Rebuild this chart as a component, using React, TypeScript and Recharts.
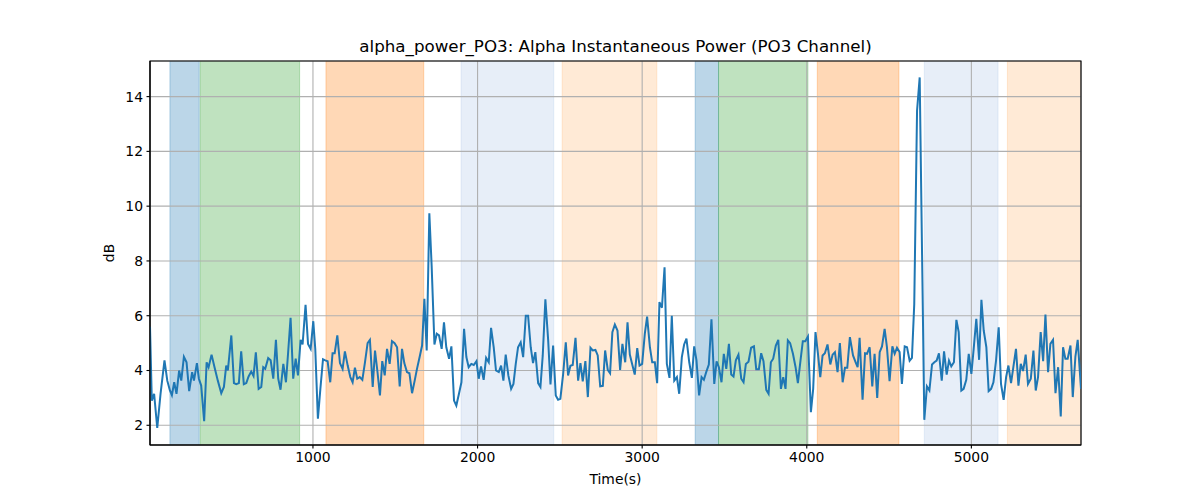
import React from "react";
import { LineChart, Line, XAxis, YAxis, CartesianGrid, ReferenceArea } from "recharts";

const times = [
  10, 21, 35, 54, 74, 98, 115, 131, 143, 157, 171, 187, 200, 216, 232, 248, 266, 277, 295, 307, 321, 339, 354, 366, 384, 402, 422, 443, 459, 473, 483, 504, 520, 534, 550, 564, 580, 595, 609, 625, 639, 653, 670, 686, 698, 710,
  728, 743, 759, 775, 789, 803, 820, 836, 850, 864, 880, 895, 909, 925, 937, 955, 970, 986, 1002, 1014, 1030, 1045, 1061, 1075, 1089, 1105, 1119, 1132, 1148, 1164, 1180, 1194, 1211, 1227, 1241, 1255, 1269, 1284, 1300, 1316, 1332, 1346, 1363, 1377, 1391, 1407, 1421,
  1436, 1450, 1466, 1480, 1496, 1511, 1527, 1541, 1555, 1571, 1586, 1602, 1618, 1632, 1648, 1663, 1677, 1691, 1707, 1721, 1738, 1752, 1766, 1782, 1796, 1810, 1827, 1841, 1857, 1871, 1887, 1902, 1918, 1932, 1946, 1962, 1977, 1993, 2007, 2021, 2037, 2052, 2068, 2082, 2098, 2112, 2129, 2143,
  2157, 2171, 2187, 2204, 2218, 2232, 2246, 2262, 2277, 2293, 2307, 2323, 2337, 2351, 2368, 2382, 2396, 2412, 2429, 2443, 2459, 2475, 2489, 2503, 2520, 2536, 2550, 2564, 2578, 2595, 2611, 2625, 2639, 2655, 2670, 2686, 2700, 2716, 2730, 2745, 2761, 2775, 2791, 2805, 2819, 2834, 2850,
  2866, 2880, 2897, 2911, 2925, 2939, 2955, 2970, 2984, 3000, 3016, 3030, 3047, 3061, 3077, 3091, 3105, 3120, 3136, 3150, 3166, 3180, 3195, 3211, 3225, 3241, 3255, 3269, 3286, 3302, 3316, 3330, 3346, 3361, 3375, 3389, 3405, 3421, 3438, 3452, 3466, 3482, 3496, 3511, 3527, 3541, 3555,
  3569, 3585, 3602, 3616, 3630, 3646, 3662, 3679, 3693, 3709, 3723, 3737, 3754, 3768, 3782, 3796, 3812, 3827, 3843, 3857, 3871, 3885, 3899, 3916, 3932, 3946, 3962, 3976, 3991, 4007, 4025, 4039, 4053, 4068, 4082, 4096, 4110, 4126, 4143, 4157, 4171, 4187, 4201, 4218, 4232, 4246, 4262,
  4281, 4297, 4309, 4321, 4339, 4354, 4366, 4382, 4398, 4412, 4428, 4443, 4457, 4473, 4487, 4503, 4520, 4534, 4548, 4564, 4578, 4595, 4609, 4625, 4639, 4653, 4670, 4686, 4714, 4730, 4745, 4761, 4775, 4789, 4803, 4820, 4834, 4850, 4864, 4878, 4894, 4909, 4923, 4939, 4953, 4969, 4984,
  5000, 5014, 5030, 5047, 5061, 5075, 5091, 5105, 5120, 5134, 5150, 5166, 5180, 5196, 5211, 5225, 5241, 5255, 5271, 5286, 5300, 5314, 5330, 5344, 5361, 5377, 5391, 5405, 5421, 5436, 5450, 5466, 5480, 5496, 5511, 5527, 5543, 5557, 5571, 5585, 5602, 5616, 5632, 5646, 5666,
];

const power = [
  5.6, 2.9, 3.15, 1.9, 3.15, 4.37, 3.63, 3.27, 3.1, 3.57, 3.15, 4.0, 3.63, 4.5, 4.3, 3.25, 3.94, 3.63, 4.27, 3.7, 3.45, 2.15, 4.3, 4.12, 4.58, 4.12, 3.63, 3.17, 3.4, 4.18, 4.0, 5.28, 3.54, 3.5, 3.54, 4.7, 3.5, 3.54, 3.78, 3.96, 3.8, 4.66, 3.33, 3.4, 4.12, 4.06,
  4.45, 4.37, 3.7, 5.12, 3.7, 3.3, 4.24, 3.57, 4.73, 5.92, 3.7, 4.43, 3.82, 5.12, 4.95, 6.4, 4.97, 4.79, 5.8, 4.79, 2.24, 3.33, 4.41, 4.37, 4.34, 3.57, 4.63, 4.63, 5.28, 4.27, 4.06, 4.7, 4.18, 3.76, 3.57, 4.1, 3.7, 3.76, 3.66, 4.3, 5.0, 5.12, 3.4, 4.73, 4.0, 3.09, 4.34,
  3.82, 4.79, 4.24, 5.07, 5.0, 4.85, 3.42, 4.79, 4.27, 3.94, 3.9, 3.17, 3.63, 4.06, 4.49, 4.91, 6.62, 4.73, 9.74, 7.83, 4.95, 5.34, 5.28, 4.79, 5.76, 4.85, 4.43, 4.88, 2.9, 2.72, 3.15, 3.57, 5.52, 4.49, 4.12, 4.24, 4.2, 4.34, 3.7, 4.15, 3.66, 4.46, 4.3, 5.56, 4.85, 4.0, 3.94, 4.18,
  3.63, 4.58, 3.82, 3.33, 3.51, 4.24, 4.85, 5.03, 4.49, 6.0, 6.0, 4.85, 4.27, 4.67, 3.54, 3.4, 4.55, 6.6, 5.1, 3.49, 4.91, 3.09, 2.93, 2.97, 3.88, 5.03, 3.82, 4.17, 4.2, 5.19, 3.63, 4.27, 3.6, 4.34, 3.03, 4.83, 4.73, 4.75, 4.55, 3.42, 3.44, 4.73, 4.02, 3.9, 5.4, 5.68, 5.46,
  4.02, 4.97, 4.3, 5.76, 4.58, 4.24, 3.85, 4.82, 4.18, 4.24, 5.34, 5.97, 4.85, 4.3, 4.3, 3.54, 6.5, 6.29, 7.77, 4.24, 3.73, 6.0, 3.63, 3.76, 3.15, 4.49, 4.95, 5.16, 4.3, 3.73, 4.88, 4.37, 3.09, 3.76, 3.66, 3.94, 4.22, 5.87, 3.51, 4.33, 4.12, 3.57, 4.61, 4.06, 4.97, 3.85, 3.78,
  4.37, 4.58, 3.7, 3.57, 4.24, 4.32, 4.83, 4.88, 4.05, 4.05, 4.63, 4.34, 3.29, 3.15, 4.3, 4.43, 4.91, 5.12, 3.33, 3.76, 3.33, 5.1, 5.0, 4.61, 4.12, 3.54, 4.37, 5.07, 5.07, 5.24, 2.48, 3.33, 5.4, 4.61, 3.76, 4.55, 4.63, 4.95, 4.22, 4.58, 4.67, 3.94, 5.0, 3.57, 4.1, 4.1, 5.22,
  4.55, 4.3, 4.12, 5.19, 2.93, 4.63, 4.61, 4.85, 3.42, 4.61, 3.0, 4.67, 4.88, 5.52, 4.85, 3.61, 4.88, 4.61, 4.83, 4.67, 3.51, 4.88, 4.85, 4.36, 4.46, 6.43, 13.49, 14.7, 2.2, 3.42, 3.27, 4.22, 4.3, 4.36, 4.63, 3.63, 4.7, 3.85, 4.36, 4.15, 4.3, 5.85, 5.4, 3.27, 3.33, 3.66, 4.61,
  3.88, 4.79, 5.89, 4.39, 6.58, 5.46, 4.85, 3.25, 3.33, 3.57, 4.37, 5.58, 3.51, 2.93, 3.76, 4.18, 3.54, 4.12, 4.79, 3.45, 4.24, 3.98, 4.58, 3.51, 3.7, 4.73, 3.27, 3.76, 5.4, 4.34, 6.04, 3.94, 4.97, 5.12, 3.17, 4.12, 2.32, 4.85, 4.43, 4.43, 4.91, 3.03, 4.51, 5.12, 3.33,
];

const spanStarts = [131, 315, 1079, 1900, 2514, 3322, 3464, 4064, 4714, 5219];
const spanEnds = [309, 919, 1673, 2463, 3089, 3464, 4007, 4560, 5162, 5666];
const spanColors = ["#1f77b4", "#2ca02c", "#ff7f0e", "#aec7e8", "#ffbb78", "#1f77b4", "#2ca02c", "#ff7f0e", "#aec7e8", "#ffbb78"];

const xTicks = [1000, 2000, 3000, 4000, 5000];
const yTicks = [2, 4, 6, 8, 10, 12, 14];
const xDomain = [10, 5666];
const yDomain = [1.28, 15.3];

const data = times.map((t, i) => ({ t, v: power[i] }));

const FONT = "'DejaVu Sans', sans-serif";

export default function App() {
  return (
    <div style={{ position: "absolute", left: 0, top: 0, width: 1200, height: 500, background: "#fff", fontFamily: FONT }}>
      <LineChart width={1200} height={500} data={data} margin={{ top: 61, right: 119, left: 0, bottom: 0 }}>
        {spanStarts.map((s, i) => (
          <ReferenceArea
            key={i}
            x1={s}
            x2={spanEnds[i]}
            y1={yDomain[0]}
            y2={yDomain[1]}
            fill={spanColors[i]}
            fillOpacity={0.3}
            stroke={spanColors[i]}
            strokeOpacity={0.3}
            strokeWidth={1}
            ifOverflow="hidden"
            zIndex={-200}
          />
        ))}
        <CartesianGrid stroke="#b0b0b0" strokeWidth={1.1} zIndex={-100} />
        <XAxis
          dataKey="t"
          type="number"
          domain={xDomain}
          ticks={xTicks}
          allowDataOverflow
          height={55}
          tickSize={3.5}
          tickMargin={3.5}
          axisLine={{ stroke: "#000", strokeWidth: 1.1 }}
          tickLine={{ stroke: "#000", strokeWidth: 1.1 }}
          tick={{ fill: "#000", fontSize: 13.9, fontFamily: FONT }}
        />
        <YAxis
          type="number"
          domain={yDomain}
          ticks={yTicks}
          allowDataOverflow
          width={150}
          tickSize={3.5}
          tickMargin={3.5}
          axisLine={{ stroke: "#000", strokeWidth: 1.1 }}
          tickLine={{ stroke: "#000", strokeWidth: 1.1 }}
          tick={{ fill: "#000", fontSize: 13.9, fontFamily: FONT }}
        />
        <Line
          dataKey="v"
          type="linear"
          stroke="#1f77b4"
          strokeWidth={2}
          dot={false}
          isAnimationActive={false}
        />
        <ReferenceArea
          x1={xDomain[0]}
          x2={xDomain[1]}
          y1={yDomain[0]}
          y2={yDomain[1]}
          fill="none"
          stroke="#000"
          strokeWidth={1.1}
        />
      </LineChart>
      <div style={{ position: "absolute", left: 150, width: 931, top: 38, textAlign: "center", fontSize: 16.7, lineHeight: "16.7px", color: "#000", whiteSpace: "nowrap" }}>
        alpha_power_PO3: Alpha Instantaneous Power (PO3 Channel)
      </div>
      <div style={{ position: "absolute", left: 150, width: 931, top: 473, textAlign: "center", fontSize: 13.9, lineHeight: "13.9px", color: "#000" }}>
        Time(s)
      </div>
      <div style={{ position: "absolute", left: 110, top: 253, transform: "translate(-50%, -50%) rotate(-90deg)", fontSize: 13.9, lineHeight: "13.9px", color: "#000", whiteSpace: "nowrap" }}>
        dB
      </div>
    </div>
  );
}
